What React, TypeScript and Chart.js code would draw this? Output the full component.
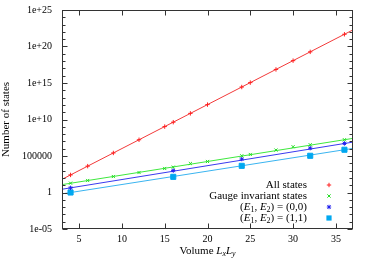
import React, { useEffect, useRef } from 'react';
import { Chart, registerables } from 'chart.js';

Chart.register(...registerables);

// ---- data ----
const volumes = [4, 6, 9, 12, 15, 16, 18, 20, 24, 25, 28, 30, 32, 36];
const allStates = [256, 4096, 262144, 16777216, 1.07e9, 4.29e9, 6.87e10, 1.1e12, 2.81e14, 1.13e15, 7.21e16, 1.15e18, 1.84e19, 4.72e21];
const gaugeStates = [19, 44, 155, 550, 1950, 3000, 9300, 17800, 107000, 162000, 650000, 1.86e6, 3.5e6, 1.7e7];

const sectorVolumes = [4, 16, 24, 32, 36];
const sector00 = [4.3, 1000, 38000, 1.2e6, 5.3e6];
const sector11 = [1, 140, 4500, 107000, 720000];

// fitted lines (end points)
const fitX = [3, 37];
const allFit = [64, 1.9e22];
const gaugeFit = [12, 2.6e7];
const sector00Fit = [2.8, 8e6];
const sector11Fit = [0.65, 1.1e6];

const xTickValues = [5, 10, 15, 20, 25, 30, 35];
const yTickValues = [1e-5, 1, 1e5, 1e10, 1e15, 1e20, 1e25];
const yTickLabels = ['1e-05', '1', '100000', '1e+10', '1e+15', '1e+20', '1e+25'];

const seriesNames = ['All states', 'Gauge invariant states', '(E1, E2) = (0,0)', '(E1, E2) = (1,1)'];

const FONT = "'Liberation Serif', 'Times New Roman', serif";

const lineColors = ['#f23a3a', '#3ee83e', '#3a3aef', '#3ab4f0'];
const pointColors = ['#ff2020', '#22dd22', '#2020ee', '#00a8f0'];
const pointStyles = ['cross', 'crossRot', 'star', 'rect'];

type Part = { t: string; i?: boolean; sub?: boolean };

function richParts(label: string): Part[] {
  // turn "(E1, E2) = ..." into italic E with subscript digits
  const parts: Part[] = [];
  let buf = '';
  for (let k = 0; k < label.length; k++) {
    const c = label[k];
    if (c === 'E' && /[0-9]/.test(label[k + 1] || '') && label.startsWith('(')) {
      if (buf) { parts.push({ t: buf }); buf = ''; }
      parts.push({ t: 'E', i: true });
      parts.push({ t: label[k + 1], sub: true });
      k++;
    } else {
      buf += c;
    }
  }
  if (buf) parts.push({ t: buf });
  return parts;
}

const xTitleParts: Part[] = [
  { t: 'Volume ' },
  { t: 'L', i: true },
  { t: 'x', i: true, sub: true },
  { t: 'L', i: true },
  { t: 'y', i: true, sub: true },
];

function setFont(ctx: CanvasRenderingContext2D, p: Part, size: number) {
  const s = p.sub ? size * 0.72 : size;
  ctx.font = `${p.i ? 'italic ' : ''}${s}px ${FONT}`;
}

function richWidth(ctx: CanvasRenderingContext2D, parts: Part[], size: number) {
  let w = 0;
  for (const p of parts) {
    setFont(ctx, p, size);
    w += ctx.measureText(p.t).width;
  }
  return w;
}

function drawRich(ctx: CanvasRenderingContext2D, parts: Part[], x: number, y: number, size: number, align: 'left' | 'right' | 'center') {
  const w = richWidth(ctx, parts, size);
  let cx = align === 'left' ? x : align === 'right' ? x - w : x - w / 2;
  ctx.textAlign = 'left';
  ctx.textBaseline = 'middle';
  for (const p of parts) {
    setFont(ctx, p, size);
    ctx.fillText(p.t, cx, p.sub ? y + size * 0.25 : y);
    cx += ctx.measureText(p.t).width;
  }
}

function drawMarker(ctx: CanvasRenderingContext2D, style: string, x: number, y: number, color: string) {
  ctx.save();
  ctx.strokeStyle = color;
  ctx.fillStyle = color;
  ctx.lineWidth = 1;
  const r = 2.2;
  ctx.beginPath();
  if (style === 'cross' || style === 'star') {
    ctx.moveTo(x - r, y); ctx.lineTo(x + r, y);
    ctx.moveTo(x, y - r); ctx.lineTo(x, y + r);
  }
  if (style === 'crossRot' || style === 'star') {
    const d = r * 0.75;
    ctx.moveTo(x - d, y - d); ctx.lineTo(x + d, y + d);
    ctx.moveTo(x - d, y + d); ctx.lineTo(x + d, y - d);
  }
  ctx.stroke();
  if (style === 'rect') {
    ctx.fillRect(x - 2.6, y - 2.6, 5.2, 5.2);
  }
  ctx.restore();
}

const framePlugin = {
  id: 'gnuFrame',
  afterDraw(chart: any) {
    const { ctx, chartArea, scales } = chart;
    const { left, right, top, bottom } = chartArea;
    const xs = scales.x;
    const ys = scales.y;
    ctx.save();
    ctx.strokeStyle = '#333';
    ctx.lineWidth = 1;
    const seg = (x1: number, y1: number, x2: number, y2: number) => {
      ctx.beginPath();
      ctx.moveTo(x1, y1);
      ctx.lineTo(x2, y2);
      ctx.stroke();
    };
    const L = Math.round(left) + 0.5;
    const R = Math.round(right) - 0.5;
    const T = Math.round(top) + 0.5;
    const B = Math.round(bottom) - 0.5;
    // y ticks: every decade, long ones at labelled values
    const e0 = Math.round(Math.log10(yTickValues[0]));
    const e1 = Math.round(Math.log10(yTickValues[yTickValues.length - 1]));
    for (let k = e0; k <= e1; k++) {
      const py = Math.round(ys.getPixelForValue(Math.pow(10, k))) + 0.5;
      const len = k % 5 === 0 ? 5 : 3;
      seg(L, py, L + len, py);
      seg(R, py, R - len, py);
    }
    for (const v of xTickValues) {
      const px = Math.round(xs.getPixelForValue(v)) + 0.5;
      seg(px, B, px, B - 5);
      seg(px, T, px, T + 5);
    }
    ctx.strokeRect(L, T, R - L, B - T);

    // legend
    ctx.fillStyle = '#000';
    const lx = 307;
    const mx = 329;
    let ly = 185;
    seriesNames.forEach((name, i) => {
      drawRich(ctx, richParts(name), lx, ly, 11, 'right');
      drawMarker(ctx, pointStyles[i], mx, ly, pointColors[i]);
      ly += 11;
    });

    // x title
    ctx.fillStyle = '#000';
    drawRich(ctx, xTitleParts, (left + right) / 2, 251, 11, 'center');
    ctx.restore();
  },
};

function toXY(xsArr: number[], ysArr: number[]) {
  return xsArr.map((x, i) => ({ x, y: ysArr[i] }));
}

export default function App() {
  const ref = useRef<HTMLCanvasElement>(null);
  useEffect(() => {
    document.body.style.margin = '0';
    const fits = [allFit, gaugeFit, sector00Fit, sector11Fit];
    const pts = [toXY(volumes, allStates), toXY(volumes, gaugeStates), toXY(sectorVolumes, sector00), toXY(sectorVolumes, sector11)];
    const datasets: any[] = [];
    fits.forEach((f, i) => {
      datasets.push({
        type: 'line',
        data: toXY(fitX, f),
        borderColor: lineColors[i],
        borderWidth: 1,
        pointRadius: 0,
        fill: false,
        order: 2,
      });
    });
    pts.forEach((p, i) => {
      datasets.push({
        type: 'scatter',
        data: p,
        showLine: false,
        pointStyle: pointStyles[i],
        pointRadius: pointStyles[i] === 'rect' ? 3.6 : 2.2,
        borderColor: pointColors[i],
        backgroundColor: pointColors[i],
        borderWidth: 1,
        order: 1,
      });
    });
    const chart = new Chart(ref.current!, {
      type: 'scatter',
      data: { datasets },
      plugins: [framePlugin],
      options: {
        animation: false,
        responsive: false,
        layout: { padding: { top: 10, right: 17, left: 0, bottom: 0 } },
        plugins: { legend: { display: false }, tooltip: { enabled: false } },
        scales: {
          x: {
            type: 'linear',
            min: 3,
            max: 37,
            afterBuildTicks: (s: any) => { s.ticks = xTickValues.map((v) => ({ value: v })); },
            afterFit: (s: any) => { s.height = 32; s.paddingLeft = 0; s.paddingRight = 0; },
            grid: { display: false, drawTicks: false },
            border: { display: false },
            ticks: { color: '#000', padding: 4, maxRotation: 0, font: { family: FONT, size: 10 } },
          },
          y: {
            type: 'logarithmic',
            min: 1e-5,
            max: 1e25,
            afterBuildTicks: (s: any) => { s.ticks = yTickValues.map((v) => ({ value: v })); },
            afterFit: (s: any) => { s.width = 62; s.paddingTop = 0; s.paddingBottom = 0; },
            grid: { display: false, drawTicks: false },
            border: { display: false },
            ticks: {
              color: '#000',
              padding: 10,
              font: { family: FONT, size: 10 },
              callback: (_v: any, i: number) => yTickLabels[i],
            },
            title: {
              display: true,
              text: 'Number of states',
              color: '#000',
              padding: { top: 0, bottom: 0 },
              font: { family: FONT, size: 11 },
            },
          },
        },
      },
    });
    return () => chart.destroy();
  }, []);
  return (
    <div style={{ width: 370, height: 261 }}>
      <canvas ref={ref} width={370} height={261} style={{ display: 'block' }} />
    </div>
  );
}
